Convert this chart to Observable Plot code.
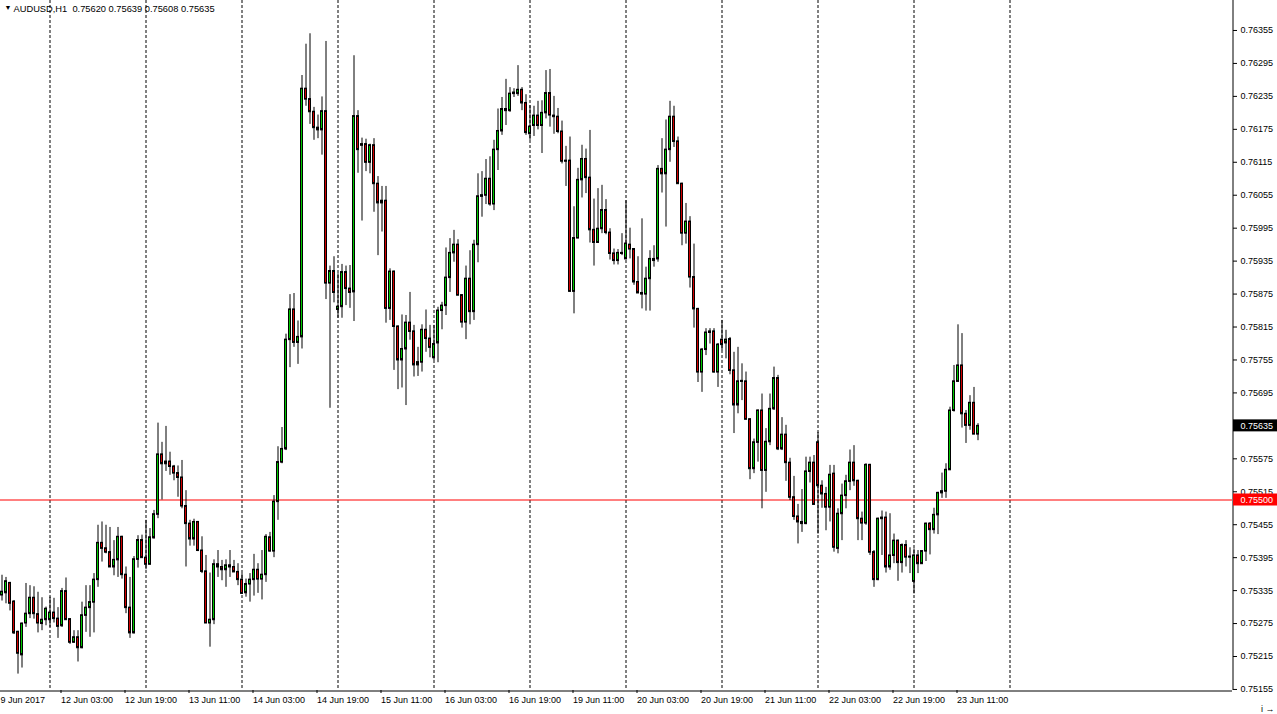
<!DOCTYPE html>
<html><head><meta charset="utf-8">
<script src="https://cdn.jsdelivr.net/npm/d3@7"></script>
<script src="https://cdn.jsdelivr.net/npm/@observablehq/plot@0.6"></script>
<style>
html,body{margin:0;padding:0;background:#fff;}
#chart{width:1277px;height:714px;overflow:hidden;}
</style></head><body><div id="chart"></div>
<script>
const symbol = "AUDUSD,H1";
const opens = [0.75327,0.75331,0.75349,0.75315,0.75260,0.75218,0.75276,0.75293,0.75322,0.75292,0.75275,0.75282,0.75282,0.75295,0.75284,0.75271,0.75334,0.75283,0.75241,0.75250,0.75231,0.75290,0.75304,0.75314,0.75355,0.75422,0.75412,0.75405,0.75378,0.75391,0.75433,0.75364,0.75304,0.75258,0.75392,0.75427,0.75395,0.75383,0.75431,0.75474,0.75583,0.75566,0.75570,0.75561,0.75549,0.75541,0.75489,0.75457,0.75429,0.75460,0.75408,0.75370,0.75276,0.75282,0.75383,0.75378,0.75373,0.75381,0.75378,0.75369,0.75355,0.75331,0.75347,0.75355,0.75373,0.75356,0.75364,0.75432,0.75407,0.75497,0.75569,0.75593,0.75792,0.75847,0.75787,0.75797,0.76249,0.76230,0.76207,0.76178,0.76174,0.76208,0.75895,0.75917,0.75847,0.75852,0.75915,0.75885,0.75879,0.76199,0.76146,0.76148,0.76115,0.76146,0.76076,0.76041,0.76045,0.75849,0.75916,0.75816,0.75755,0.75775,0.75823,0.75807,0.75746,0.75751,0.75810,0.75794,0.75759,0.75786,0.75845,0.75854,0.75905,0.75950,0.75965,0.75873,0.75824,0.75903,0.75843,0.75965,0.76053,0.76055,0.76085,0.76039,0.76138,0.76172,0.76212,0.76209,0.76242,0.76240,0.76247,0.76223,0.76167,0.76182,0.76200,0.76182,0.76205,0.76241,0.76200,0.76198,0.76171,0.76117,0.76118,0.75880,0.75977,0.76083,0.76121,0.76087,0.75992,0.75969,0.75994,0.76028,0.75987,0.75949,0.75936,0.75950,0.75939,0.75965,0.75957,0.75897,0.75877,0.75875,0.75903,0.75936,0.75939,0.76103,0.76094,0.76138,0.76198,0.76153,0.76076,0.75986,0.76007,0.75906,0.75848,0.75733,0.75774,0.75805,0.75807,0.75733,0.75792,0.75786,0.75793,0.75736,0.75673,0.75716,0.75716,0.75647,0.75557,0.75605,0.75663,0.75554,0.75606,0.75666,0.75722,0.75593,0.75619,0.75568,0.75505,0.75470,0.75460,0.75457,0.75552,0.75568,0.75605,0.75526,0.75511,0.75487,0.75548,0.75412,0.75475,0.75508,0.75534,0.75568,0.75535,0.75466,0.75458,0.75564,0.75405,0.75355,0.75466,0.75468,0.75378,0.75399,0.75426,0.75386,0.75418,0.75396,0.75352,0.75399,0.75384,0.75407,0.75457,0.75446,0.75473,0.75513,0.75516,0.75555,0.75663,0.75716,0.75745,0.75657,0.75636,0.75677,0.75620];
const highs = [0.75363,0.75359,0.75350,0.75317,0.75261,0.75276,0.75348,0.75344,0.75342,0.75332,0.75322,0.75305,0.75323,0.75321,0.75304,0.75339,0.75358,0.75284,0.75262,0.75262,0.75314,0.75344,0.75344,0.75366,0.75454,0.75460,0.75454,0.75450,0.75426,0.75450,0.75434,0.75378,0.75359,0.75397,0.75435,0.75436,0.75463,0.75448,0.75481,0.75640,0.75605,0.75634,0.75587,0.75563,0.75562,0.75572,0.75517,0.75463,0.75465,0.75461,0.75433,0.75399,0.75367,0.75391,0.75408,0.75390,0.75391,0.75408,0.75390,0.75384,0.75366,0.75356,0.75366,0.75401,0.75384,0.75408,0.75437,0.75441,0.75508,0.75597,0.75632,0.75802,0.75874,0.75876,0.75826,0.76273,0.76330,0.76349,0.76215,0.76201,0.76234,0.76335,0.75926,0.75943,0.75912,0.75929,0.75926,0.75927,0.76309,0.76209,0.76159,0.76157,0.76148,0.76158,0.76089,0.76071,0.76071,0.75921,0.75917,0.75817,0.75837,0.75836,0.75878,0.75818,0.75778,0.75819,0.75846,0.75818,0.75818,0.75851,0.75860,0.75959,0.75976,0.75991,0.75974,0.75874,0.75926,0.75954,0.75973,0.76094,0.76098,0.76120,0.76125,0.76155,0.76212,0.76233,0.76266,0.76251,0.76249,0.76291,0.76251,0.76238,0.76218,0.76217,0.76226,0.76227,0.76282,0.76284,0.76235,0.76213,0.76190,0.76144,0.76161,0.76034,0.76104,0.76146,0.76139,0.76173,0.76048,0.76067,0.76073,0.76047,0.75994,0.75957,0.75956,0.75985,0.76045,0.75995,0.75958,0.75943,0.76012,0.75924,0.75954,0.75963,0.76109,0.76158,0.76192,0.76226,0.76217,0.76161,0.76077,0.76040,0.76016,0.75966,0.75849,0.75776,0.75812,0.75812,0.75812,0.75785,0.75827,0.75809,0.75796,0.75769,0.75778,0.75748,0.75733,0.75648,0.75611,0.75664,0.75693,0.75630,0.75693,0.75742,0.75727,0.75650,0.75636,0.75576,0.75543,0.75492,0.75519,0.75578,0.75578,0.75581,0.75623,0.75535,0.75523,0.75563,0.75563,0.75484,0.75529,0.75545,0.75591,0.75599,0.75536,0.75478,0.75566,0.75565,0.75408,0.75467,0.75480,0.75478,0.75475,0.75438,0.75427,0.75420,0.75426,0.75413,0.75411,0.75408,0.75408,0.75458,0.75459,0.75485,0.75514,0.75549,0.75566,0.75669,0.75745,0.75819,0.75803,0.75663,0.75690,0.75705,0.75639];
const lows = [0.75316,0.75311,0.75298,0.75255,0.75183,0.75194,0.75268,0.75284,0.75283,0.75258,0.75262,0.75271,0.75268,0.75276,0.75248,0.75268,0.75281,0.75237,0.75239,0.75205,0.75229,0.75259,0.75250,0.75258,0.75341,0.75387,0.75402,0.75377,0.75362,0.75359,0.75356,0.75293,0.75248,0.75256,0.75376,0.75394,0.75373,0.75382,0.75429,0.75466,0.75500,0.75552,0.75545,0.75535,0.75505,0.75484,0.75378,0.75416,0.75416,0.75406,0.75366,0.75275,0.75232,0.75273,0.75359,0.75353,0.75341,0.75359,0.75368,0.75344,0.75328,0.75323,0.75314,0.75325,0.75330,0.75318,0.75350,0.75405,0.75395,0.75463,0.75566,0.75590,0.75741,0.75778,0.75747,0.75775,0.76217,0.76184,0.76155,0.76158,0.76128,0.75865,0.75667,0.75859,0.75831,0.75831,0.75854,0.75849,0.75825,0.76095,0.76008,0.76098,0.76094,0.76024,0.75945,0.75988,0.75822,0.75827,0.75736,0.75701,0.75704,0.75672,0.75791,0.75724,0.75725,0.75733,0.75769,0.75759,0.75754,0.75750,0.75810,0.75836,0.75878,0.75933,0.75872,0.75813,0.75792,0.75819,0.75827,0.75932,0.76015,0.76038,0.76035,0.76027,0.76100,0.76164,0.76182,0.76206,0.76233,0.76235,0.76209,0.76164,0.76155,0.76162,0.76174,0.76131,0.76194,0.76179,0.76166,0.76167,0.76112,0.76071,0.75878,0.75839,0.75976,0.76050,0.76058,0.75968,0.75926,0.75968,0.75985,0.75983,0.75937,0.75928,0.75928,0.75945,0.75938,0.75939,0.75891,0.75876,0.75848,0.75844,0.75844,0.75924,0.75933,0.76059,0.75997,0.76115,0.76142,0.76075,0.75963,0.75966,0.75886,0.75813,0.75714,0.75696,0.75763,0.75784,0.75731,0.75705,0.75772,0.75757,0.75728,0.75621,0.75657,0.75681,0.75646,0.75537,0.75548,0.75569,0.75484,0.75514,0.75599,0.75663,0.75590,0.75590,0.75534,0.75499,0.75463,0.75420,0.75441,0.75455,0.75531,0.75491,0.75438,0.75485,0.75444,0.75460,0.75405,0.75402,0.75426,0.75484,0.75517,0.75525,0.75426,0.75426,0.75454,0.75399,0.75341,0.75353,0.75399,0.75367,0.75372,0.75384,0.75352,0.75367,0.75378,0.75366,0.75329,0.75366,0.75383,0.75388,0.75400,0.75438,0.75437,0.75503,0.75503,0.75554,0.75660,0.75715,0.75631,0.75603,0.75627,0.75619,0.75608];
const closes = [0.75333,0.75352,0.75312,0.75258,0.75221,0.75275,0.75293,0.75322,0.75293,0.75276,0.75282,0.75302,0.75295,0.75284,0.75270,0.75334,0.75282,0.75241,0.75250,0.75231,0.75290,0.75304,0.75314,0.75355,0.75422,0.75412,0.75405,0.75378,0.75391,0.75433,0.75364,0.75304,0.75258,0.75392,0.75427,0.75395,0.75383,0.75432,0.75474,0.75583,0.75566,0.75570,0.75561,0.75549,0.75541,0.75489,0.75457,0.75429,0.75460,0.75408,0.75370,0.75276,0.75282,0.75383,0.75378,0.75373,0.75381,0.75378,0.75369,0.75355,0.75330,0.75347,0.75355,0.75373,0.75356,0.75364,0.75433,0.75407,0.75497,0.75569,0.75593,0.75792,0.75847,0.75787,0.75797,0.76249,0.76230,0.76207,0.76178,0.76174,0.76208,0.75895,0.75917,0.75878,0.75852,0.75915,0.75885,0.75878,0.76199,0.76138,0.76148,0.76115,0.76146,0.76076,0.76041,0.76045,0.75849,0.75916,0.75816,0.75755,0.75775,0.75823,0.75807,0.75746,0.75751,0.75810,0.75794,0.75778,0.75784,0.75845,0.75854,0.75905,0.75950,0.75965,0.75873,0.75824,0.75903,0.75843,0.75965,0.76053,0.76055,0.76085,0.76039,0.76138,0.76172,0.76212,0.76209,0.76240,0.76240,0.76247,0.76223,0.76169,0.76180,0.76200,0.76182,0.76205,0.76241,0.76201,0.76198,0.76171,0.76117,0.76118,0.75880,0.75977,0.76083,0.76121,0.76087,0.75992,0.75969,0.75994,0.76028,0.75987,0.75949,0.75936,0.75950,0.75949,0.75967,0.75957,0.75897,0.75877,0.75875,0.75903,0.75939,0.75939,0.76103,0.76094,0.76138,0.76198,0.76153,0.76076,0.75986,0.76007,0.75906,0.75848,0.75733,0.75774,0.75805,0.75807,0.75733,0.75783,0.75783,0.75792,0.75736,0.75673,0.75716,0.75717,0.75647,0.75557,0.75605,0.75663,0.75554,0.75606,0.75666,0.75722,0.75593,0.75619,0.75568,0.75505,0.75470,0.75460,0.75457,0.75552,0.75568,0.75492,0.75526,0.75511,0.75487,0.75546,0.75414,0.75475,0.75508,0.75534,0.75568,0.75535,0.75466,0.75458,0.75564,0.75405,0.75355,0.75466,0.75468,0.75378,0.75399,0.75426,0.75386,0.75418,0.75396,0.75397,0.75399,0.75384,0.75407,0.75457,0.75446,0.75473,0.75513,0.75516,0.75555,0.75663,0.75716,0.75745,0.75657,0.75636,0.75677,0.75620,0.75635];

const priceTicks = [0.75155,0.75215,0.75275,0.75335,0.75395,0.75455,0.75515,0.75575,0.75635,0.75695,0.75755,0.75815,0.75875,0.75935,0.75995,0.76055,0.76115,0.76175,0.76235,0.76295,0.76355];
const firstTimeLabel = "9 Jun 2017";
const timeTickIndex = [15,31,47,63,79,95,111,127,143,159,175,191,207,223,239];
const timeTickLabels = ["12 Jun 03:00","12 Jun 19:00","13 Jun 11:00","14 Jun 03:00","14 Jun 19:00","15 Jun 11:00","16 Jun 03:00","16 Jun 19:00","19 Jun 11:00","20 Jun 03:00","20 Jun 19:00","21 Jun 11:00","22 Jun 03:00","22 Jun 19:00","23 Jun 11:00"];
const daySeparatorIndex = [12,36,60,84,108,132,156,180,204,228,252];
const levelPrice = 0.75500;

const bullColor = "#00c800";
const bearColor = "#d00000";
const fontFamily = "'Liberation Sans', Arial, sans-serif";

const data = opens.map((o, i) => ({i, o, h: highs[i], l: lows[i], c: closes[i]}));
const last = data[data.length - 1];
const fmt = d => d.toFixed(5);
const labelOf = new Map(timeTickIndex.map((d, k) => [d, timeTickLabels[k]]));
const xDomain = [-0.375, 307.625];
const yDomain = [0.751531, 0.764096];

const chart = Plot.plot({
  width: 1277, height: 714,
  marginLeft: 0, marginRight: 45, marginTop: 0, marginBottom: 24,
  x: {type: "linear", domain: xDomain, axis: null},
  y: {type: "linear", domain: yDomain, axis: null},
  style: {fontFamily, fontSize: "9px", background: "#fff", color: "#000"},
  marks: [
    Plot.ruleX(daySeparatorIndex, {x: d => d, stroke: "#000", strokeDasharray: "3,2"}),
    Plot.ruleY([levelPrice], {y: d => d, stroke: "#ff0000"}),
    Plot.ruleX(data, {x: "i", y1: "l", y2: "h", stroke: "#000", strokeWidth: 1}),
    Plot.rect(data, {x1: d => d.i - 0.25, x2: d => d.i + 0.25, y1: "o", y2: "c",
      fill: d => d.c >= d.o ? bullColor : bearColor, stroke: "#000", strokeWidth: 1}),
    Plot.ruleY(data, {y: "o", x1: d => d.i - 0.375, x2: d => d.i + 0.375, stroke: "#000"}),
    Plot.ruleY(data, {y: "c", x1: d => d.i - 0.375, x2: d => d.i + 0.375, stroke: "#000"}),
    Plot.ruleX([xDomain[1]], {x: d => d, stroke: "#000", dx: 0.5}),
    Plot.ruleY([yDomain[0]], {y: d => d, stroke: "#000", dy: 0.5}),
    Plot.axisY(priceTicks, {anchor: "right", tickSize: 4, tickPadding: 4, tickFormat: fmt,
      textAnchor: "start", fontSize: 9, stroke: "#000", fill: "#000"}),
    Plot.axisX(timeTickIndex, {anchor: "bottom", tickSize: 3, tickPadding: 3,
      tickFormat: d => labelOf.get(d), textAnchor: "start", dx: -1, fontSize: 9, stroke: "#000", fill: "#000"}),
    Plot.text([firstTimeLabel], {x: xDomain[0], y: yDomain[0], text: d => d, textAnchor: "start",
      lineAnchor: "top", dx: 0, dy: 6, fontSize: 9, fill: "#000"}),
    Plot.rect([levelPrice], {x1: xDomain[1], x2: xDomain[1], y1: d => d, y2: d => d,
      insetLeft: 1, insetRight: -45, insetTop: -6, insetBottom: -6, fill: "#ff0000"}),
    Plot.text([levelPrice], {x: xDomain[1], y: d => d, text: fmt, dx: 8, textAnchor: "start", fill: "#fff", fontSize: 9}),
    Plot.rect([last.c], {x1: xDomain[1], x2: xDomain[1], y1: d => d, y2: d => d,
      insetLeft: 1, insetRight: -45, insetTop: -6, insetBottom: -6, fill: "#000"}),
    Plot.text([last.c], {x: xDomain[1], y: d => d, text: fmt, dx: 8, textAnchor: "start", fill: "#fff", fontSize: 9}),
    Plot.text(["▼"], {frameAnchor: "top-left", dx: 4, dy: 5, text: d => d, fontSize: 7, fill: "#000"}),
    Plot.text([`${symbol}  ${fmt(last.o)} ${fmt(last.h)} ${fmt(last.l)} ${fmt(last.c)}`],
      {frameAnchor: "top-left", dx: 13, dy: 5, text: d => d, textAnchor: "start", fontSize: 9.3, fill: "#000"})
  ]
});
document.getElementById("chart").appendChild(chart);
</script>
</body></html>
